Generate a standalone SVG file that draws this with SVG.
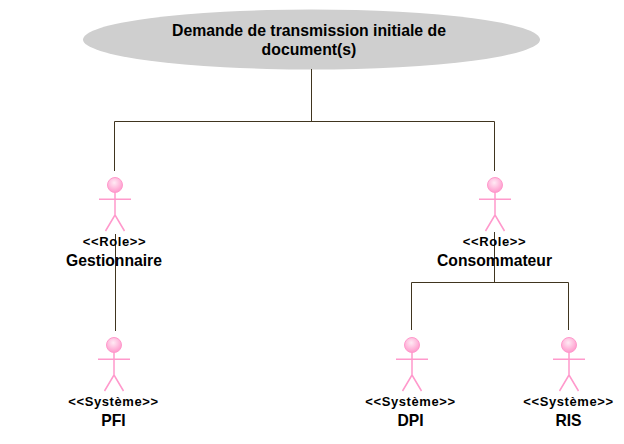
<svg xmlns="http://www.w3.org/2000/svg" width="624" height="444" viewBox="0 0 624 444">
<style>
text{font-family:"Liberation Sans",Arial,sans-serif;fill:#000;text-anchor:middle}
.t{font-size:15.800px;font-weight:bold}
.s{font-size:13px;font-weight:bold;letter-spacing:.6px}
.n{font-size:15.700px;font-weight:bold}
.c{fill:none;stroke:#40351f;stroke-width:1}
.a{fill:none;stroke:#ff99cc;stroke-width:1.500}
</style>
<defs>
<radialGradient id="h" cx="0.45" cy="0.35" r="0.65"><stop offset="0" stop-color="#ffeaf4"/><stop offset="1" stop-color="#ff99cc"/></radialGradient>
<g id="actor">
<circle cx="0" cy="0" r="7.500" fill="url(#h)" stroke="#ff99cc"/>
<path class="a" d="M0 7V30M-16 14.300H16M0 30L-9.500 46M0 30L9.500 46"/>
</g>
</defs>
<g id="usecase"><ellipse cx="311.500" cy="39.500" rx="228.500" ry="30" fill="#cfcfcf"/>
<text class="t" x="309" y="36">Demande de transmission initiale de</text>
<text class="t" x="309" y="55">document(s)</text></g>
<g id="connectors">
<path class="c" d="M311.500 69V121.500M114.500 171V121.500H494.500V171"/>
<path class="c" d="M115.500 234V331M494.500 232V282.500M411.500 330V282.500H568.500V330"/>
</g>
<g id="gestionnaire"><use href="#actor" x="115" y="185"/><text class="s" x="114.500" y="246">&lt;&lt;Role&gt;&gt;</text><text class="n" x="114" y="266">Gestionnaire</text></g>
<g id="consommateur"><use href="#actor" x="495" y="185"/><text class="s" x="494.500" y="246">&lt;&lt;Role&gt;&gt;</text><text class="n" x="494.500" y="266">Consommateur</text></g>
<g id="pfi"><use href="#actor" x="114" y="345"/><text class="s" x="113.500" y="406">&lt;&lt;Système&gt;&gt;</text><text class="n" x="113.500" y="426">PFI</text></g>
<g id="dpi"><use href="#actor" x="412" y="345"/><text class="s" x="410.500" y="406">&lt;&lt;Système&gt;&gt;</text><text class="n" x="410.500" y="426">DPI</text></g>
<g id="ris"><use href="#actor" x="569" y="345"/><text class="s" x="568.500" y="406">&lt;&lt;Système&gt;&gt;</text><text class="n" x="568.500" y="426">RIS</text></g>
</svg>
